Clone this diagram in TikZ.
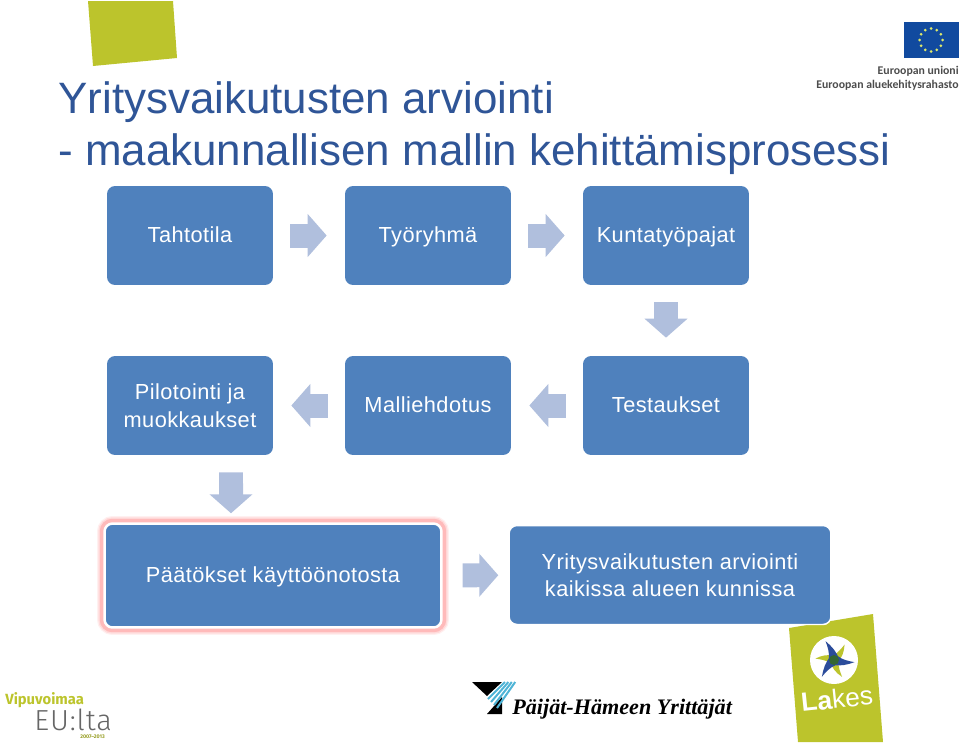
\documentclass[tikz,border=0pt]{standalone}
\usepackage{fontspec}
\setmainfont{Liberation Sans}
\newfontfamily\spacedfont[LetterSpace=2]{Liberation Sans}
\newfontfamily\logofont{Fira Sans}
\newfontfamily\thinfont[LetterSpace=3]{Fira Sans Light}
\newfontfamily\eufont{Carlito}
\newfontfamily\serifbold{Liberation Serif}
\usetikzlibrary{arrows.meta}
\definecolor{boxblue}{HTML}{4F81BD}
\definecolor{flowblue}{HTML}{B0BFDD}
\definecolor{titleblue}{HTML}{2F5597}
\definecolor{lakesgreen}{HTML}{BCC42C}
\definecolor{euflag}{HTML}{114A9F}
\definecolor{eustar}{HTML}{DDE86A}
\definecolor{bladeblue}{HTML}{2B4C9B}
\definecolor{stripecyan}{HTML}{4FB4D6}
\tikzset{
	stepbox/.style={draw=none,fill=boxblue,rounded corners=.16cm,minimum width=3.32cm,minimum height=1.98cm,
		align=center,text=white,font=\spacedfont\fontsize{12.4}{15.7}\selectfont,inner sep=0pt},
	oneline/.style={text height=.33cm,text depth=.06cm},
	glowbox/.style={stepbox,oneline,minimum width=6.74cm,minimum height=2.08cm,
		preaction={draw=red!6,line width=.3cm},
		preaction={draw=red!14,line width=.25cm},
		preaction={draw=red!27,line width=.19cm},
		draw=white,line width=.05cm},
	flow/.style={flowblue,line width=.48cm,-{Triangle[length=.38cm,width=.84cm]},shorten <=.34cm,shorten >=.36cm},
	title/.style={anchor=base west,text=titleblue,font=\fontsize{25}{30}\selectfont,inner sep=0pt},
	logotext/.style={anchor=base west,inner sep=0pt},
}
\begin{document}
\begin{tikzpicture}[x=.02cm,y=-.02cm]
	\useasboundingbox (0,0) rectangle (960,744);
	% logos behind the boxes
	\fill[lakesgreen] (88,1) -- (173,1) -- (177,58) -- (93,66) -- cycle;
	\fill[lakesgreen] (789,628) -- (873,614) -- (883,742) -- (798,742) -- cycle;
	\fill[white] (834,660) circle (24);
	\foreach \a in {70,190,310}
		\fill[lakesgreen,shift={(834,660)},rotate=\a] (-4,-2) .. controls (-3,-8) and (-4,-13) .. (-5,-18) .. controls (0,-13) and (4,-8) .. (4,1) -- cycle;
	\foreach \a in {10,130,250}
		\fill[bladeblue,shift={(834,660)},rotate=\a] (-5,-2) .. controls (-3,-8) and (-4,-14) .. (-5,-20) .. controls (0,-14) and (4,-8) .. (5,0) -- cycle;
	\fill[green!25!black!80] (834,660) circle (5);
	\fill[euflag] (904,22) rectangle (959,58);
	\foreach \a in {0,30,...,330}
		\fill[eustar] (931,40) ++(\a:11.5) circle (1.5);
	% title
	\node[title] (line1) at (58,113) {Yritysvaikutusten arviointi};
	\node[title] (line2) at (58,165) {- maakunnallisen mallin kehittämisprosessi};
	% steps
	\node[stepbox,oneline] (tahtotila) at (190,235.5) {Tahtotila};
	\node[stepbox,oneline] (tyoryhma) at (428,235.5) {Työryhmä};
	\node[stepbox,oneline] (kunta) at (666,235.5) {Kuntatyöpajat};
	\node[stepbox] (pilot) at (190,405.5) {Pilotointi ja\\muokkaukset};
	\node[stepbox,oneline] (malli) at (428,405.5) {Malliehdotus};
	\node[stepbox,oneline] (testaus) at (666,405.5) {Testaukset};
	\node[glowbox] (paatos) at (273,575.5) {Päätökset käyttöönotosta};
	\node[stepbox,minimum width=6.44cm,draw=white,line width=.03cm] (arviointi) at (670,575) {Yritysvaikutusten arviointi\\kaikissa alueen kunnissa};
	% arrows
	\draw[flow] (tahtotila) -- (tyoryhma);
	\draw[flow] (tyoryhma) -- (kunta);
	\draw[flow] (kunta) -- (testaus);
	\draw[flow] (testaus) -- (malli);
	\draw[flow] (malli) -- (pilot);
	\draw[flow,shorten >=.18cm] ([xshift=.82cm]pilot.south) -- ([xshift=-.84cm]paatos.north);
	\draw[flow,shorten <=.4cm,shorten >=.2cm] (paatos) -- (arviointi);
	% eu text
	\node[anchor=base east,inner sep=0pt,text=black!70,font=\eufont\bfseries\fontsize{6.7}{9}\selectfont] (euunion) at (959,74.5) {Euroopan unioni};
	\node[anchor=base east,inner sep=0pt,text=black!70,font=\eufont\bfseries\fontsize{6.7}{9}\selectfont] (eurahasto) at (959,88.5) {Euroopan aluekehitysrahasto};
	% vipuvoimaa
	\node[logotext,text=lakesgreen,font=\logofont\bfseries\fontsize{8.4}{9}\selectfont] (vipu) at (5,704.5) {Vipuvoimaa};
	\node[logotext,text=black!60,font=\thinfont\fontsize{16.5}{18}\selectfont] (eulta) at (34,730.5) {EU:lta};
	\node[logotext,text=lakesgreen!80!black,font=\logofont\bfseries\fontsize{3}{4}\selectfont] (vuodet) at (80,738.5) {2007–2013};
	% yrittajat
	\fill[black] (472,682) -- (502,682) -- (487,696) -- cycle;
	\fill[black] (502,697) -- (502,714) -- (487,714) -- cycle;
	\foreach \k in {0,1,2,3}
		\draw[stripecyan,line width=.04cm] (505+3.4*\k,682) -- (488+3*\k,699+3*\k);
	\node[logotext,text=black,font=\serifbold\bfseries\itshape\fontsize{12.6}{14}\selectfont] (yrittajat) at (512,714) {Päijät-Hämeen Yrittäjät};
	\node[anchor=base,inner sep=0pt,rotate=6,text=white,font=\fontsize{15}{16}\selectfont] (lakes) at (838,708) {\textbf{La}kes};
\end{tikzpicture}
\end{document}
